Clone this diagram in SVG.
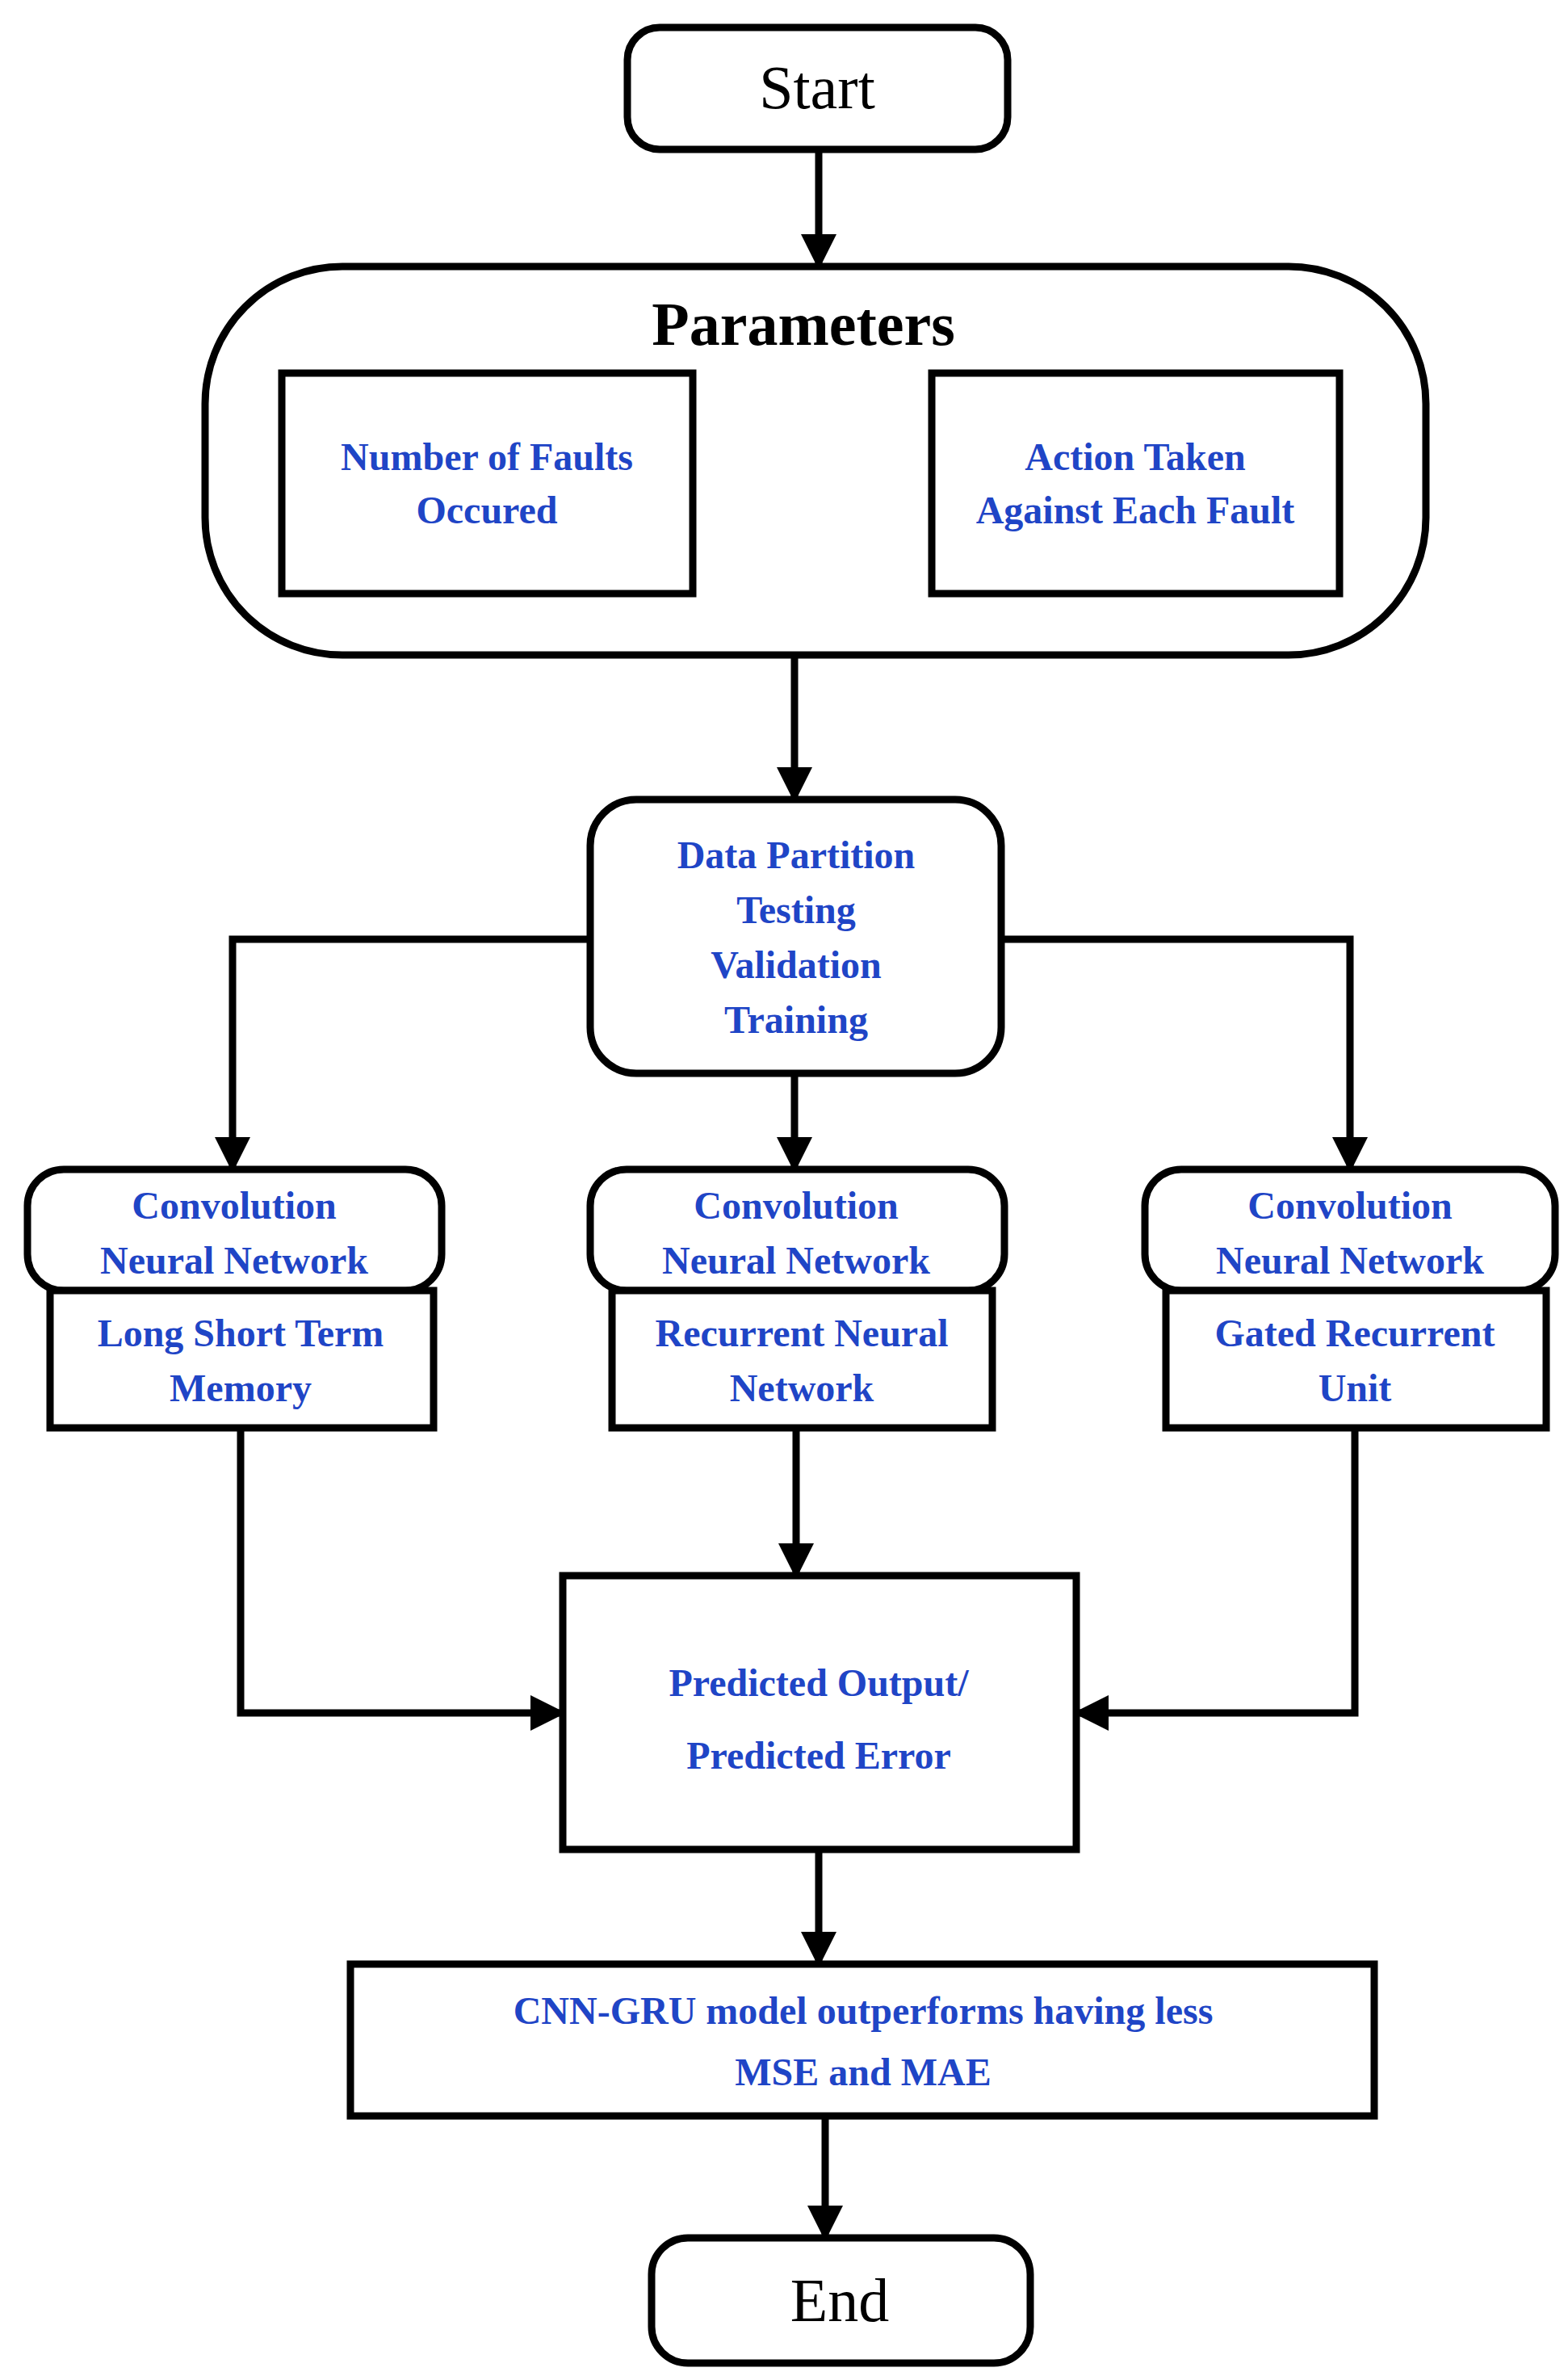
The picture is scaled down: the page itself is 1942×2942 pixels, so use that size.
<svg xmlns="http://www.w3.org/2000/svg" width="1942" height="2942" viewBox="0 0 1942 2942">
<style>
.b{fill:#fff;stroke:#000;stroke-width:9}
.l{fill:none;stroke:#000;stroke-width:9}
.t{font-family:"Liberation Serif",serif;font-weight:bold;fill:#1f45c6;font-size:48px;text-anchor:middle}
.k{font-family:"Liberation Serif",serif;fill:#000;font-size:76px;text-anchor:middle}
</style>
<defs><marker id="a" markerUnits="userSpaceOnUse" markerWidth="44" markerHeight="44" refX="40" refY="22" orient="auto"><path d="M0,0L44,22L0,44Z" fill="#000"/></marker></defs>
<rect width="1942" height="2942" fill="#fff"/>
<g id="connectors">
<path class="l" d="M1014,185V330" marker-end="url(#a)"/>
<path class="l" d="M984,811V990" marker-end="url(#a)"/>
<path class="l" d="M731,1163H288V1448" marker-end="url(#a)"/>
<path class="l" d="M1240,1163H1672V1448" marker-end="url(#a)"/>
<path class="l" d="M984,1329V1448" marker-end="url(#a)"/>
<path class="l" d="M298,1768V2121H697" marker-end="url(#a)"/>
<path class="l" d="M1678,1768V2121H1333" marker-end="url(#a)"/>
<path class="l" d="M986,1768V1951" marker-end="url(#a)"/>
<path class="l" d="M1014,2290V2432" marker-end="url(#a)"/>
<path class="l" d="M1022,2620V2771" marker-end="url(#a)"/>
</g>
<g id="start"><rect class="b" x="777" y="34" width="471" height="151" rx="40"/><text class="k" x="1012" y="134">Start</text></g>
<g id="parameters"><rect class="b" x="254" y="330" width="1512" height="481" rx="170"/><text class="k" x="995" y="427" font-weight="bold" font-size="72">Parameters</text></g>
<g id="faults"><rect class="b" x="349" y="462" width="509" height="273"/><text class="t" x="603" y="582">Number of Faults</text><text class="t" x="603" y="648">Occured</text></g>
<g id="action"><rect class="b" x="1154" y="462" width="505" height="273"/><text class="t" x="1406" y="582">Action Taken</text><text class="t" x="1406" y="648">Against Each Fault</text></g>
<g id="partition"><rect class="b" x="731" y="990" width="509" height="339" rx="57"/><text class="t" x="986" y="1075">Data Partition</text><text class="t" x="986" y="1143">Testing</text><text class="t" x="986" y="1211">Validation</text><text class="t" x="986" y="1279">Training</text></g>
<g id="cnn1"><rect class="b" x="34" y="1448" width="513" height="150" rx="45"/><text class="t" x="290" y="1509">Convolution</text><text class="t" x="290" y="1577">Neural Network</text></g>
<g id="lstm"><rect class="b" x="62" y="1598" width="475" height="170"/><text class="t" x="298" y="1667">Long Short Term</text><text class="t" x="298" y="1735">Memory</text></g>
<g id="cnn2"><rect class="b" x="731" y="1448" width="513" height="150" rx="45"/><text class="t" x="986" y="1509">Convolution</text><text class="t" x="986" y="1577">Neural Network</text></g>
<g id="rnn"><rect class="b" x="758" y="1598" width="471" height="170"/><text class="t" x="993" y="1667">Recurrent Neural</text><text class="t" x="993" y="1735">Network</text></g>
<g id="cnn3"><rect class="b" x="1418" y="1448" width="508" height="150" rx="45"/><text class="t" x="1672" y="1509">Convolution</text><text class="t" x="1672" y="1577">Neural Network</text></g>
<g id="gru"><rect class="b" x="1444" y="1598" width="471" height="170"/><text class="t" x="1678" y="1667">Gated Recurrent</text><text class="t" x="1678" y="1735">Unit</text></g>
<g id="predicted"><rect class="b" x="697" y="1951" width="636" height="339"/><text class="t" x="1014" y="2100" font-size="68">Predicted Output/</text><text class="t" x="1014" y="2190" font-size="68">Predicted Error</text></g>
<g id="result"><rect class="b" x="434" y="2432" width="1268" height="188"/><text class="t" x="1069" y="2506" font-family="Open Sans,Liberation Sans,sans-serif" font-size="52">CNN-GRU model outperforms having less</text><text class="t" x="1069" y="2582" font-family="Open Sans,Liberation Sans,sans-serif" font-size="52">MSE and MAE</text></g>
<g id="end"><rect class="b" x="807" y="2771" width="469" height="155" rx="45"/><text class="k" x="1040" y="2874">End</text></g>
</svg>
